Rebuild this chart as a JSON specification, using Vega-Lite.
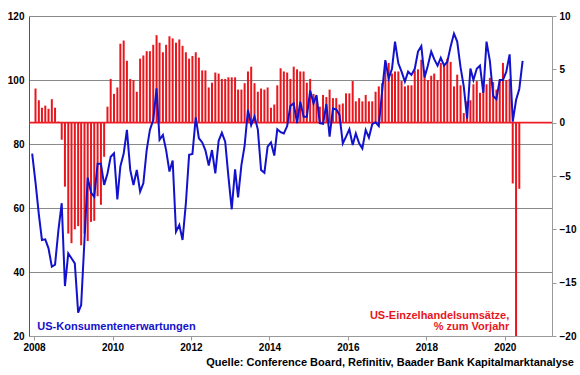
{
  "$schema": "https://vega.github.io/schema/vega-lite/v6.json",
  "width": 523,
  "height": 320,
  "autosize": {"type": "none"},
  "padding": {"left": 29, "top": 16, "right": 28, "bottom": 39},
  "background": "white",
  "config": {"view": {"stroke": null}, "font": "Liberation Sans", "text": {"font": "Liberation Sans"}},
  "title": {"text": "Quelle: Conference Board, Refinitiv, Baader Bank Kapitalmarktanalyse", "orient": "bottom", "anchor": "end", "frame": "group", "fontSize": 11, "fontWeight": "bold", "color": "#000000", "font": "Liberation Sans", "offset": 5, "dx": 22},
  "datasets": {
    "retail": [
      {"date": "2008-01-15", "v": 3.2}, {"date": "2008-02-15", "v": 2.1}, {"date": "2008-03-15", "v": 1.4}, {"date": "2008-04-15", "v": 1.6}, {"date": "2008-05-15", "v": 1.3}, {"date": "2008-06-15", "v": 2.2}, {"date": "2008-07-15", "v": 1.4}, {"date": "2008-08-15", "v": 0.1}, {"date": "2008-09-15", "v": -1.6}, {"date": "2008-10-15", "v": -6.0}, {"date": "2008-11-15", "v": -10.4}, {"date": "2008-12-15", "v": -11.3},
      {"date": "2009-01-15", "v": -10.0}, {"date": "2009-02-15", "v": -9.7}, {"date": "2009-03-15", "v": -11.5}, {"date": "2009-04-15", "v": -10.4}, {"date": "2009-05-15", "v": -11.1}, {"date": "2009-06-15", "v": -9.3}, {"date": "2009-07-15", "v": -9.2}, {"date": "2009-08-15", "v": -6.9}, {"date": "2009-09-15", "v": -7.7}, {"date": "2009-10-15", "v": -3.2}, {"date": "2009-11-15", "v": 1.5}, {"date": "2009-12-15", "v": 4.1},
      {"date": "2010-01-15", "v": 2.7}, {"date": "2010-02-15", "v": 3.3}, {"date": "2010-03-15", "v": 7.4}, {"date": "2010-04-15", "v": 7.7}, {"date": "2010-05-15", "v": 5.8}, {"date": "2010-06-15", "v": 4.1}, {"date": "2010-07-15", "v": 4.0}, {"date": "2010-08-15", "v": 2.9}, {"date": "2010-09-15", "v": 6.0}, {"date": "2010-10-15", "v": 6.3}, {"date": "2010-11-15", "v": 6.7}, {"date": "2010-12-15", "v": 6.7},
      {"date": "2011-01-15", "v": 7.3}, {"date": "2011-02-15", "v": 8.2}, {"date": "2011-03-15", "v": 7.5}, {"date": "2011-04-15", "v": 6.6}, {"date": "2011-05-15", "v": 7.3}, {"date": "2011-06-15", "v": 8.1}, {"date": "2011-07-15", "v": 7.9}, {"date": "2011-08-15", "v": 7.5}, {"date": "2011-09-15", "v": 7.8}, {"date": "2011-10-15", "v": 7.2}, {"date": "2011-11-15", "v": 6.6}, {"date": "2011-12-15", "v": 6.0},
      {"date": "2012-01-15", "v": 6.25}, {"date": "2012-02-15", "v": 6.6}, {"date": "2012-03-15", "v": 6.1}, {"date": "2012-04-15", "v": 4.9}, {"date": "2012-05-15", "v": 4.9}, {"date": "2012-06-15", "v": 3.3}, {"date": "2012-07-15", "v": 3.75}, {"date": "2012-08-15", "v": 4.7}, {"date": "2012-09-15", "v": 4.6}, {"date": "2012-10-15", "v": 4.1}, {"date": "2012-11-15", "v": 4.1}, {"date": "2012-12-15", "v": 4.25},
      {"date": "2013-01-15", "v": 4.25}, {"date": "2013-02-15", "v": 4.25}, {"date": "2013-03-15", "v": 3.1}, {"date": "2013-04-15", "v": 3.1}, {"date": "2013-05-15", "v": 3.7}, {"date": "2013-06-15", "v": 4.8}, {"date": "2013-07-15", "v": 5.25}, {"date": "2013-08-15", "v": 3.7}, {"date": "2013-09-15", "v": 2.9}, {"date": "2013-10-15", "v": 3.2}, {"date": "2013-11-15", "v": 3.1}, {"date": "2013-12-15", "v": 3.3},
      {"date": "2014-01-15", "v": 1.4}, {"date": "2014-02-15", "v": 1.7}, {"date": "2014-03-15", "v": 3.5}, {"date": "2014-04-15", "v": 5.1}, {"date": "2014-05-15", "v": 4.8}, {"date": "2014-06-15", "v": 4.7}, {"date": "2014-07-15", "v": 4.1}, {"date": "2014-08-15", "v": 5.25}, {"date": "2014-09-15", "v": 5.0}, {"date": "2014-10-15", "v": 4.8}, {"date": "2014-11-15", "v": 4.8}, {"date": "2014-12-15", "v": 3.75},
      {"date": "2015-01-15", "v": 4.1}, {"date": "2015-02-15", "v": 2.7}, {"date": "2015-03-15", "v": 2.2}, {"date": "2015-04-15", "v": 1.5}, {"date": "2015-05-15", "v": 2.6}, {"date": "2015-06-15", "v": 2.4}, {"date": "2015-07-15", "v": 3.1}, {"date": "2015-08-15", "v": 2.3}, {"date": "2015-09-15", "v": 2.3}, {"date": "2015-10-15", "v": 1.7}, {"date": "2015-11-15", "v": 1.8}, {"date": "2015-12-15", "v": 2.75},
      {"date": "2016-01-15", "v": 2.75}, {"date": "2016-02-15", "v": 3.9}, {"date": "2016-03-15", "v": 2.0}, {"date": "2016-04-15", "v": 2.3}, {"date": "2016-05-15", "v": 2.0}, {"date": "2016-06-15", "v": 2.6}, {"date": "2016-07-15", "v": 2.0}, {"date": "2016-08-15", "v": 2.0}, {"date": "2016-09-15", "v": 2.9}, {"date": "2016-10-15", "v": 3.4}, {"date": "2016-11-15", "v": 3.7}, {"date": "2016-12-15", "v": 5.7},
      {"date": "2017-01-15", "v": 5.6}, {"date": "2017-02-15", "v": 4.6}, {"date": "2017-03-15", "v": 4.8}, {"date": "2017-04-15", "v": 4.8}, {"date": "2017-05-15", "v": 3.9}, {"date": "2017-06-15", "v": 3.4}, {"date": "2017-07-15", "v": 3.5}, {"date": "2017-08-15", "v": 3.5}, {"date": "2017-09-15", "v": 4.9}, {"date": "2017-10-15", "v": 5.0}, {"date": "2017-11-15", "v": 5.9}, {"date": "2017-12-15", "v": 4.9},
      {"date": "2018-01-15", "v": 4.0}, {"date": "2018-02-15", "v": 4.4}, {"date": "2018-03-15", "v": 4.6}, {"date": "2018-04-15", "v": 4.0}, {"date": "2018-05-15", "v": 5.6}, {"date": "2018-06-15", "v": 5.4}, {"date": "2018-07-15", "v": 6.0}, {"date": "2018-08-15", "v": 5.7}, {"date": "2018-09-15", "v": 3.4}, {"date": "2018-10-15", "v": 4.5}, {"date": "2018-11-15", "v": 3.5}, {"date": "2018-12-15", "v": 0.9},
      {"date": "2019-01-15", "v": 2.0}, {"date": "2019-02-15", "v": 2.1}, {"date": "2019-03-15", "v": 3.6}, {"date": "2019-04-15", "v": 3.9}, {"date": "2019-05-15", "v": 2.8}, {"date": "2019-06-15", "v": 3.5}, {"date": "2019-07-15", "v": 3.6}, {"date": "2019-08-15", "v": 4.2}, {"date": "2019-09-15", "v": 3.8}, {"date": "2019-10-15", "v": 3.1}, {"date": "2019-11-15", "v": 4.0}, {"date": "2019-12-15", "v": 5.6},
      {"date": "2020-01-15", "v": 4.0}, {"date": "2020-02-15", "v": 4.1}, {"date": "2020-03-15", "v": -5.7}, {"date": "2020-04-15", "v": -20.5}, {"date": "2020-05-15", "v": -6.2}
    ],
    "conf": [
      {"date": "2007-12-15", "v": 77},
      {"date": "2008-01-15", "v": 68}, {"date": "2008-02-15", "v": 58}, {"date": "2008-03-15", "v": 50}, {"date": "2008-04-15", "v": 50.2}, {"date": "2008-05-15", "v": 47.4}, {"date": "2008-06-15", "v": 41.7}, {"date": "2008-07-15", "v": 42.3}, {"date": "2008-08-15", "v": 53}, {"date": "2008-09-15", "v": 61.5}, {"date": "2008-10-15", "v": 35.6}, {"date": "2008-11-15", "v": 45.8}, {"date": "2008-12-15", "v": 44.3},
      {"date": "2009-01-15", "v": 42.7}, {"date": "2009-02-15", "v": 27.3}, {"date": "2009-03-15", "v": 29.7}, {"date": "2009-04-15", "v": 50}, {"date": "2009-05-15", "v": 69.5}, {"date": "2009-06-15", "v": 64.8}, {"date": "2009-07-15", "v": 63.5}, {"date": "2009-08-15", "v": 73.8}, {"date": "2009-09-15", "v": 73.8}, {"date": "2009-10-15", "v": 67.2}, {"date": "2009-11-15", "v": 70.8}, {"date": "2009-12-15", "v": 76},
      {"date": "2010-01-15", "v": 77.1}, {"date": "2010-02-15", "v": 62.7}, {"date": "2010-03-15", "v": 73}, {"date": "2010-04-15", "v": 77}, {"date": "2010-05-15", "v": 84.4}, {"date": "2010-06-15", "v": 71.9}, {"date": "2010-07-15", "v": 67.2}, {"date": "2010-08-15", "v": 71.9}, {"date": "2010-09-15", "v": 65.1}, {"date": "2010-10-15", "v": 67.7}, {"date": "2010-11-15", "v": 78.1}, {"date": "2010-12-15", "v": 84.4},
      {"date": "2011-01-15", "v": 87.5}, {"date": "2011-02-15", "v": 97.4}, {"date": "2011-03-15", "v": 81.3}, {"date": "2011-04-15", "v": 82.8}, {"date": "2011-05-15", "v": 78.1}, {"date": "2011-06-15", "v": 71.4}, {"date": "2011-07-15", "v": 74.8}, {"date": "2011-08-15", "v": 52.6}, {"date": "2011-09-15", "v": 54.7}, {"date": "2011-10-15", "v": 50.0}, {"date": "2011-11-15", "v": 61.5}, {"date": "2011-12-15", "v": 76.6},
      {"date": "2012-01-15", "v": 76.9}, {"date": "2012-02-15", "v": 88.3}, {"date": "2012-03-15", "v": 81.8}, {"date": "2012-04-15", "v": 80.5}, {"date": "2012-05-15", "v": 78}, {"date": "2012-06-15", "v": 73.3}, {"date": "2012-07-15", "v": 78.1}, {"date": "2012-08-15", "v": 70.8}, {"date": "2012-09-15", "v": 81}, {"date": "2012-10-15", "v": 83.5}, {"date": "2012-11-15", "v": 80.7}, {"date": "2012-12-15", "v": 69.8},
      {"date": "2013-01-15", "v": 59.6}, {"date": "2013-02-15", "v": 72.1}, {"date": "2013-03-15", "v": 63.3}, {"date": "2013-04-15", "v": 73.4}, {"date": "2013-05-15", "v": 79.5}, {"date": "2013-06-15", "v": 90.7}, {"date": "2013-07-15", "v": 85.9}, {"date": "2013-08-15", "v": 88.6}, {"date": "2013-09-15", "v": 84.5}, {"date": "2013-10-15", "v": 71.9}, {"date": "2013-11-15", "v": 71.0}, {"date": "2013-12-15", "v": 79.2},
      {"date": "2014-01-15", "v": 80.5}, {"date": "2014-02-15", "v": 76.4}, {"date": "2014-03-15", "v": 84.6}, {"date": "2014-04-15", "v": 83.7}, {"date": "2014-05-15", "v": 83.3}, {"date": "2014-06-15", "v": 85.6}, {"date": "2014-07-15", "v": 91.9}, {"date": "2014-08-15", "v": 92.7}, {"date": "2014-09-15", "v": 86.5}, {"date": "2014-10-15", "v": 93.2}, {"date": "2014-11-15", "v": 88.5}, {"date": "2014-12-15", "v": 88.5},
      {"date": "2015-01-15", "v": 96.7}, {"date": "2015-02-15", "v": 92.7}, {"date": "2015-03-15", "v": 95.3}, {"date": "2015-04-15", "v": 86.5}, {"date": "2015-05-15", "v": 86.3}, {"date": "2015-06-15", "v": 92.5}, {"date": "2015-07-15", "v": 82.3}, {"date": "2015-08-15", "v": 91.1}, {"date": "2015-09-15", "v": 90.8}, {"date": "2015-10-15", "v": 89.1}, {"date": "2015-11-15", "v": 80.2}, {"date": "2015-12-15", "v": 82.3},
      {"date": "2016-01-15", "v": 84.6}, {"date": "2016-02-15", "v": 79.7}, {"date": "2016-03-15", "v": 83.3}, {"date": "2016-04-15", "v": 80.2}, {"date": "2016-05-15", "v": 78.6}, {"date": "2016-06-15", "v": 84.4}, {"date": "2016-07-15", "v": 82}, {"date": "2016-08-15", "v": 86.2}, {"date": "2016-09-15", "v": 86.8}, {"date": "2016-10-15", "v": 85.6}, {"date": "2016-11-15", "v": 96.5}, {"date": "2016-12-15", "v": 106.2},
      {"date": "2017-01-15", "v": 100.5}, {"date": "2017-02-15", "v": 103.5}, {"date": "2017-03-15", "v": 112}, {"date": "2017-04-15", "v": 105.2}, {"date": "2017-05-15", "v": 102.6}, {"date": "2017-06-15", "v": 99.5}, {"date": "2017-07-15", "v": 102.6}, {"date": "2017-08-15", "v": 101.6}, {"date": "2017-09-15", "v": 103.5}, {"date": "2017-10-15", "v": 108.9}, {"date": "2017-11-15", "v": 110.6}, {"date": "2017-12-15", "v": 100.8},
      {"date": "2018-01-15", "v": 104.5}, {"date": "2018-02-15", "v": 108.9}, {"date": "2018-03-15", "v": 106.5}, {"date": "2018-04-15", "v": 104.5}, {"date": "2018-05-15", "v": 106.9}, {"date": "2018-06-15", "v": 104.5}, {"date": "2018-07-15", "v": 105.7}, {"date": "2018-08-15", "v": 110.5}, {"date": "2018-09-15", "v": 114.5}, {"date": "2018-10-15", "v": 112}, {"date": "2018-11-15", "v": 104}, {"date": "2018-12-15", "v": 98},
      {"date": "2019-01-15", "v": 88}, {"date": "2019-02-15", "v": 103.6}, {"date": "2019-03-15", "v": 100}, {"date": "2019-04-15", "v": 103.5}, {"date": "2019-05-15", "v": 104.5}, {"date": "2019-06-15", "v": 96}, {"date": "2019-07-15", "v": 112}, {"date": "2019-08-15", "v": 106}, {"date": "2019-09-15", "v": 95}, {"date": "2019-10-15", "v": 94}, {"date": "2019-11-15", "v": 100}, {"date": "2019-12-15", "v": 100},
      {"date": "2020-01-15", "v": 102.6}, {"date": "2020-02-15", "v": 108}, {"date": "2020-03-15", "v": 87}, {"date": "2020-04-15", "v": 93.75}, {"date": "2020-05-15", "v": 97.2}, {"date": "2020-06-15", "v": 106}
    ],
    "blueLabel": [{"date": "2008-02-01", "v": 22.8, "t": "US-Konsumentenerwartungen"}],
    "redLabel": [
      {"date": "2020-02-12", "v": 26.3, "t": "US-Einzelhandelsumsätze,"},
      {"date": "2020-02-12", "v": 22.9, "t": "% zum Vorjahr"}
    ]
  },
  "layer": [
    {
      "layer": [
        {
          "data": {"name": "retail"},
          "mark": {"type": "bar", "color": "#e8161d", "size": 2, "clip": true},
          "encoding": {
            "x": {
              "field": "date", "type": "temporal",
              "scale": {"type": "utc", "domain": [{"year": 2008, "month": 1, "date": 1, "utc": true}, {"year": 2021, "month": 1, "date": 28, "utc": true}]},
              "axis": {
                "title": null, "format": "%Y", "grid": false,
                "values": [{"year": 2008, "month": 1, "date": 1, "utc": true}, {"year": 2010, "month": 1, "date": 1, "utc": true}, {"year": 2012, "month": 1, "date": 1, "utc": true}, {"year": 2014, "month": 1, "date": 1, "utc": true}, {"year": 2016, "month": 1, "date": 1, "utc": true}, {"year": 2018, "month": 1, "date": 1, "utc": true}, {"year": 2020, "month": 1, "date": 1, "utc": true}],
                "domainColor": "#9a9a9a", "tickColor": "#9a9a9a", "tickSize": 4, "labelPadding": 2,
                "labelFont": "Liberation Sans", "labelFontSize": 10, "labelFontWeight": "bold", "labelColor": "#000000", "labelFlush": false
              }
            },
            "y": {
              "field": "v", "type": "quantitative",
              "scale": {"domain": [-20, 10], "nice": false, "zero": false},
              "axis": {
                "orient": "right", "title": null, "grid": false,
                "values": [-20, -15, -10, -5, 0, 5, 10],
                "domainColor": "#9a9a9a", "tickColor": "#9a9a9a", "tickSize": 4, "labelPadding": 3,
                "labelFont": "Liberation Sans", "labelFontSize": 10, "labelFontWeight": "bold", "labelColor": "#000000"
              }
            }
          }
        },
        {
          "data": {"values": [{}]},
          "mark": {"type": "rule", "color": "#ee1c24", "strokeWidth": 1.6},
          "encoding": {"y": {"datum": 0, "type": "quantitative"}}
        }
      ]
    },
    {
      "layer": [
        {
          "data": {"name": "conf"},
          "mark": {"type": "line", "color": "#1212cc", "strokeWidth": 2, "clip": true},
          "encoding": {
            "x": {"field": "date", "type": "temporal", "scale": {"type": "utc", "domain": [{"year": 2008, "month": 1, "date": 1, "utc": true}, {"year": 2021, "month": 1, "date": 28, "utc": true}]}},
            "y": {
              "field": "v", "type": "quantitative",
              "scale": {"domain": [20, 120], "nice": false, "zero": false},
              "axis": {
                "orient": "left", "title": null, "grid": true, "gridColor": "#8a8a8a", "gridWidth": 1,
                "values": [20, 40, 60, 80, 100, 120],
                "domainColor": "#555555", "ticks": false, "labelPadding": 5,
                "labelFont": "Liberation Sans", "labelFontSize": 10, "labelFontWeight": "bold", "labelColor": "#000000"
              }
            }
          }
        },
        {
          "data": {"name": "blueLabel"},
          "mark": {"type": "text", "align": "left", "baseline": "middle", "color": "#1212cc", "font": "Liberation Sans", "fontSize": 11, "fontWeight": "bold"},
          "encoding": {
            "x": {"field": "date", "type": "temporal"},
            "y": {"field": "v", "type": "quantitative"},
            "text": {"field": "t"}
          }
        },
        {
          "data": {"name": "redLabel"},
          "mark": {"type": "text", "align": "right", "baseline": "middle", "color": "#e8161d", "font": "Liberation Sans", "fontSize": 11, "fontWeight": "bold"},
          "encoding": {
            "x": {"field": "date", "type": "temporal"},
            "y": {"field": "v", "type": "quantitative"},
            "text": {"field": "t"}
          }
        }
      ]
    }
  ],
  "resolve": {"scale": {"y": "independent"}, "axis": {"y": "independent"}}
}
